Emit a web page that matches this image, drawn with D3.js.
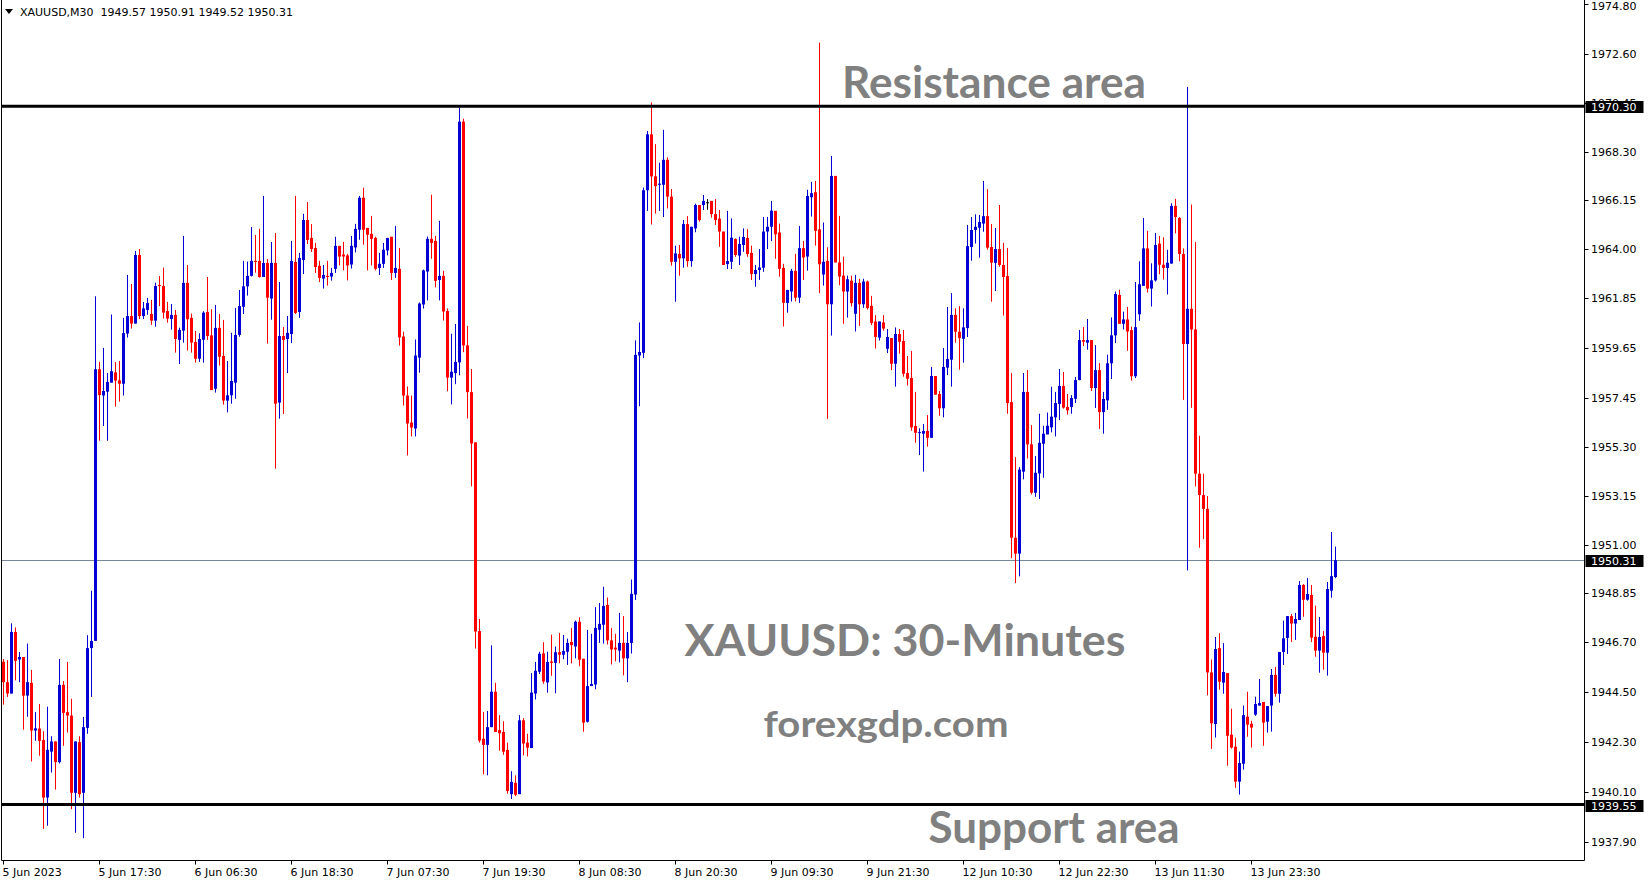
<!DOCTYPE html>
<html><head><meta charset="utf-8">
<script src="https://cdn.jsdelivr.net/npm/d3@7"></script>
<style>
html,body{margin:0;padding:0;background:#fff;overflow:hidden}
svg{display:block}
</style></head><body>
<svg id="c" width="1649" height="884"></svg>
<script>
const symbolTitle = "XAUUSD,M30";
const lastQuote = ["1949.57", "1950.91", "1949.52", "1950.31"];

const opens = [1945.84,1944.94,1944.44,1947.15,1945.94,1946.05,1944.35,1944.91,1942.81,1942.90,1942.39,1939.86,1941.88,1942.33,1941.42,1944.82,1943.62,1943.47,1940.07,1942.30,1940.07,1942.93,1946.44,1946.76,1958.72,1957.56,1957.73,1958.13,1958.58,1958.23,
1958.08,1960.29,1961.06,1960.73,1963.75,1961.06,1961.33,1961.15,1960.86,1962.43,1962.38,1961.28,1960.93,1961.11,1960.01,1960.42,1962.52,1960.98,1959.92,1959.18,1960.02,1961.24,1960.21,1957.86,1960.54,1959.30,1957.34,1957.57,1958.13,1960.23,
1961.47,1962.37,1962.83,1963.49,1963.49,1962.78,1963.40,1961.83,1963.40,1957.25,1960.18,1960.05,1960.27,1963.44,1961.24,1963.53,1965.29,1964.50,1964.06,1963.27,1962.71,1962.83,1962.80,1963.14,1964.15,1963.77,1963.73,1963.33,1964.08,1964.86,
1966.27,1964.94,1964.68,1964.50,1963.18,1963.36,1963.95,1964.55,1962.96,1963.14,1960.16,1957.56,1956.37,1956.11,1959.23,1961.57,1963.02,1964.46,1964.37,1962.65,1962.83,1961.28,1958.35,1958.55,1959.02,1969.62,1959.77,1957.71,1955.50,1947.19,
1942.45,1942.18,1942.96,1944.52,1942.83,1942.75,1941.96,1940.01,1940.51,1940.01,1943.26,1942.28,1942.04,1944.44,1945.40,1946.21,1944.93,1945.85,1945.79,1946.26,1946.15,1946.28,1946.71,1946.51,1947.60,1945.97,1943.20,1944.77,1944.84,1947.25,
1947.47,1948.34,1946.78,1946.46,1946.33,1946.67,1945.99,1946.67,1948.80,1959.32,1959.44,1966.60,1969.06,1967.21,1966.84,1966.84,1967.94,1966.32,1963.45,1963.79,1963.60,1965.11,1963.48,1964.92,1965.95,1965.95,1966.07,1966.13,1965.55,1965.35,
1964.78,1963.35,1963.45,1964.45,1963.72,1964.19,1964.50,1963.84,1962.91,1963.09,1963.19,1964.78,1964.99,1965.69,1964.74,1963.18,1961.64,1962.14,1963.05,1961.87,1964.05,1963.68,1966.29,1966.51,1964.88,1962.89,1963.49,1961.58,1967.23,1963.42,
1962.84,1962.14,1962.62,1961.16,1962.52,1961.58,1962.58,1961.51,1960.82,1960.11,1960.78,1959.62,1960.09,1958.96,1960.27,1959.96,1958.55,1958.33,1956.22,1955.92,1955.88,1956.00,1955.70,1958.42,1957.63,1957.00,1958.79,1959.14,1961.11,1960.37,
1960.06,1960.53,1964.10,1964.85,1964.95,1965.13,1965.46,1964.10,1963.40,1964.01,1963.31,1962.82,1957.27,1951.30,1950.60,1954.21,1957.72,1955.41,1953.28,1954.13,1955.44,1955.85,1956.16,1956.60,1957.19,1957.98,1957.06,1957.06,1957.42,1958.24,
1960.00,1959.89,1960.00,1957.89,1958.68,1956.83,1957.35,1958.98,1960.21,1961.99,1960.72,1960.91,1960.44,1958.41,1961.14,1962.39,1964.04,1962.27,1962.63,1964.25,1963.32,1963.18,1963.37,1965.91,1965.38,1963.79,1959.83,1961.38,1960.47,1954.12,
1953.18,1952.57,1945.37,1943.10,1946.44,1944.92,1945.34,1942.63,1942.10,1940.56,1941.35,1943.42,1943.11,1943.51,1943.91,1944.07,1943.20,1943.91,1945.26,1944.43,1946.27,1946.89,1947.85,1947.52,1947.68,1949.22,1948.57,1948.78,1946.94,1946.33,
1946.97,1946.24,1948.97,1949.57];

const highs = [1945.96,1945.91,1947.53,1947.35,1946.27,1946.05,1946.64,1945.48,1943.62,1943.98,1942.78,1943.86,1942.56,1942.33,1945.96,1944.99,1945.83,1944.21,1942.33,1942.56,1943.41,1947.01,1948.97,1961.93,1959.04,1959.66,1958.55,1961.13,1959.04,1959.08,
1960.98,1962.87,1962.47,1963.93,1964.01,1961.68,1961.86,1961.77,1962.53,1962.82,1963.19,1961.68,1961.59,1961.33,1960.55,1964.59,1963.31,1961.17,1960.40,1960.30,1961.27,1962.78,1961.36,1961.55,1961.15,1960.89,1959.08,1960.32,1961.42,1962.21,
1963.49,1963.46,1964.98,1964.63,1964.90,1966.35,1963.57,1964.32,1964.72,1962.56,1960.58,1961.06,1964.37,1966.35,1963.84,1965.56,1966.08,1965.11,1964.28,1963.49,1963.31,1963.49,1963.18,1964.55,1964.15,1964.33,1963.80,1964.59,1965.12,1966.35,
1966.71,1964.94,1965.47,1964.55,1963.84,1964.28,1964.50,1964.55,1965.03,1964.06,1960.37,1957.96,1957.56,1960.03,1961.66,1963.11,1964.56,1966.40,1964.59,1965.25,1963.05,1961.40,1960.28,1960.71,1970.25,1969.75,1960.63,1958.73,1955.50,1947.72,
1943.63,1943.67,1946.56,1944.91,1943.49,1943.22,1942.28,1941.02,1940.84,1943.49,1943.36,1942.67,1945.34,1945.83,1946.28,1946.70,1946.28,1947.03,1946.51,1947.11,1947.02,1946.86,1947.33,1947.65,1947.80,1945.97,1947.24,1947.07,1948.25,1948.43,
1949.14,1948.67,1947.33,1947.07,1947.99,1947.85,1947.15,1949.46,1959.99,1960.78,1966.72,1969.21,1970.47,1968.63,1967.81,1969.26,1968.05,1966.65,1964.16,1964.19,1965.29,1965.46,1964.99,1966.01,1965.95,1966.39,1966.21,1966.13,1966.21,1965.73,
1964.78,1965.69,1965.36,1964.48,1964.56,1964.92,1964.89,1964.16,1963.31,1964.01,1965.42,1965.42,1966.13,1965.69,1965.13,1963.36,1962.21,1963.14,1963.80,1965.03,1964.37,1966.62,1966.97,1967.01,1973.10,1965.18,1964.09,1968.11,1967.23,1965.47,
1963.68,1962.84,1962.84,1962.87,1962.70,1962.70,1962.62,1961.95,1961.10,1960.82,1961.10,1960.49,1960.09,1960.56,1960.49,1960.45,1959.30,1959.52,1957.72,1956.12,1956.31,1956.70,1958.82,1958.42,1957.76,1959.65,1961.46,1962.07,1961.40,1961.50,
1961.40,1965.07,1965.42,1965.54,1965.51,1967.01,1966.65,1965.11,1964.94,1965.95,1964.28,1964.06,1958.55,1954.85,1954.41,1958.55,1958.68,1956.26,1954.90,1956.76,1956.23,1956.81,1957.95,1957.72,1958.73,1958.60,1957.63,1957.58,1958.38,1960.45,
1960.58,1960.93,1960.00,1959.78,1958.99,1957.72,1959.36,1961.00,1962.14,1962.22,1961.25,1961.46,1960.59,1962.56,1963.47,1965.38,1964.81,1963.38,1964.72,1964.59,1964.53,1963.98,1966.03,1966.22,1965.42,1964.04,1971.15,1965.97,1964.32,1955.79,
1954.12,1953.14,1945.94,1946.93,1947.10,1946.66,1945.34,1943.77,1942.50,1941.88,1943.91,1944.52,1943.24,1944.30,1945.08,1944.07,1943.89,1945.52,1945.61,1946.27,1947.65,1947.85,1947.94,1947.99,1949.39,1949.26,1949.53,1949.22,1948.31,1947.81,
1947.19,1949.35,1951.55,1950.91];

const lows = [1943.95,1944.29,1944.44,1945.02,1944.94,1942.85,1943.42,1941.45,1942.36,1941.70,1938.48,1938.62,1940.96,1940.21,1941.36,1942.14,1942.72,1939.35,1938.31,1939.86,1938.07,1942.67,1944.29,1946.76,1955.57,1956.22,1955.57,1958.13,1957.07,1957.29,
1957.56,1960.11,1960.51,1960.73,1960.93,1960.93,1961.12,1960.67,1960.59,1961.50,1960.95,1960.77,1960.46,1959.45,1958.95,1959.89,1959.54,1959.45,1959.01,1959.04,1959.01,1960.01,1957.80,1957.69,1958.88,1957.16,1956.82,1957.20,1957.42,1960.15,
1961.15,1961.96,1962.80,1962.97,1962.75,1962.78,1959.85,1960.90,1954.34,1956.54,1956.75,1958.55,1959.87,1961.15,1960.98,1962.91,1964.23,1963.88,1962.96,1962.56,1962.27,1962.40,1962.62,1962.96,1963.29,1963.07,1962.63,1963.15,1963.86,1964.42,
1964.20,1963.07,1963.29,1963.07,1962.87,1963.18,1963.73,1962.65,1962.74,1959.76,1957.12,1954.92,1955.76,1955.76,1958.57,1961.39,1961.75,1963.58,1962.32,1961.75,1960.86,1957.75,1957.17,1958.06,1958.45,1959.47,1956.55,1953.56,1946.42,1942.28,
1940.88,1940.84,1942.96,1942.75,1941.92,1941.74,1940.03,1939.80,1939.92,1940.01,1941.72,1941.67,1942.04,1944.18,1945.30,1944.87,1944.48,1945.22,1944.45,1945.77,1945.95,1945.70,1945.77,1945.99,1945.64,1942.76,1943.16,1944.77,1944.63,1946.67,
1946.64,1946.60,1945.72,1945.86,1945.81,1945.24,1944.94,1946.20,1948.56,1957.09,1959.21,1965.69,1965.09,1965.57,1965.69,1965.42,1965.80,1963.28,1961.69,1962.84,1963.19,1963.23,1963.23,1964.75,1965.22,1965.73,1965.74,1965.39,1965.07,1964.11,
1963.31,1963.13,1963.13,1963.67,1963.31,1963.89,1963.67,1962.65,1962.35,1962.65,1963.01,1964.01,1964.36,1963.58,1962.79,1960.60,1961.21,1961.70,1961.70,1961.64,1962.65,1963.06,1965.44,1964.16,1962.07,1962.40,1956.53,1960.20,1963.42,1962.42,
1960.72,1960.99,1961.48,1960.38,1960.63,1961.42,1961.35,1960.66,1959.63,1959.98,1960.42,1959.43,1958.68,1957.95,1959.40,1958.39,1958.00,1956.01,1955.48,1954.94,1954.21,1955.31,1955.70,1957.60,1956.67,1956.60,1958.46,1957.95,1959.89,1958.70,
1959.01,1960.14,1963.50,1964.25,1963.63,1964.77,1963.98,1961.69,1962.16,1963.23,1961.08,1956.76,1950.40,1949.30,1949.60,1953.87,1954.79,1953.21,1953.10,1953.00,1953.94,1955.85,1955.94,1955.76,1956.48,1956.98,1956.72,1956.76,1957.23,1958.24,
1959.74,1959.58,1957.76,1957.01,1956.09,1955.88,1956.93,1958.29,1959.87,1960.72,1960.47,1959.53,1958.22,1958.33,1960.85,1962.39,1962.10,1961.48,1962.58,1962.90,1962.67,1962.01,1963.37,1964.70,1963.47,1957.37,1949.86,1957.02,1953.56,1950.86,
1951.24,1944.36,1942.00,1942.50,1944.61,1944.43,1941.26,1942.01,1940.29,1939.99,1941.09,1942.54,1942.06,1943.46,1943.91,1942.14,1942.72,1942.76,1944.30,1944.04,1945.70,1946.18,1946.71,1946.80,1947.68,1947.82,1948.53,1946.71,1946.06,1945.36,
1945.49,1945.23,1948.66,1949.52];

const closes = [1944.94,1944.44,1947.15,1945.88,1946.05,1944.35,1944.94,1942.81,1942.91,1942.36,1939.86,1941.96,1942.33,1941.42,1944.82,1943.59,1943.47,1940.07,1942.33,1940.01,1942.96,1946.44,1946.75,1958.72,1957.58,1957.76,1958.16,1958.63,1958.22,1958.08,
1960.31,1961.06,1960.73,1963.75,1961.06,1961.40,1961.64,1960.86,1962.38,1962.38,1961.21,1960.95,1961.11,1960.05,1960.45,1962.52,1960.92,1959.89,1959.18,1960.05,1961.21,1960.18,1957.80,1960.54,1959.27,1957.34,1957.57,1958.20,1960.23,1961.50,
1962.37,1962.83,1963.49,1963.44,1962.78,1963.40,1961.87,1963.40,1957.20,1960.18,1960.01,1960.32,1963.49,1961.20,1963.62,1965.29,1964.41,1964.01,1963.22,1962.74,1962.87,1962.78,1962.96,1964.15,1963.68,1963.68,1963.29,1964.15,1964.90,1966.27,
1964.86,1964.64,1964.46,1963.14,1963.36,1963.98,1964.50,1962.96,1963.18,1960.12,1957.56,1956.33,1956.15,1959.32,1961.61,1963.07,1964.46,1964.28,1962.61,1962.83,1961.26,1958.35,1958.61,1959.04,1969.62,1959.77,1957.71,1955.45,1947.17,1942.37,
1942.18,1942.96,1944.52,1942.75,1942.69,1941.88,1940.15,1940.55,1939.98,1943.26,1942.24,1942.06,1944.48,1945.44,1946.19,1944.97,1945.83,1945.79,1946.26,1946.15,1946.31,1946.67,1946.57,1947.60,1945.93,1943.16,1944.77,1944.86,1947.33,1947.51,
1948.30,1946.78,1946.38,1946.38,1946.67,1945.99,1946.67,1948.83,1959.35,1959.48,1966.60,1969.06,1967.21,1966.78,1966.89,1967.94,1966.32,1963.45,1963.82,1963.60,1965.11,1963.48,1964.99,1965.95,1965.29,1966.13,1966.07,1965.55,1965.29,1964.78,
1963.31,1963.48,1964.51,1963.75,1964.23,1964.54,1963.79,1962.91,1963.09,1963.20,1964.78,1964.99,1965.70,1964.66,1963.14,1961.64,1962.21,1963.05,1961.87,1964.05,1963.64,1966.35,1966.47,1964.81,1963.34,1963.45,1961.58,1967.23,1963.42,1962.80,
1962.14,1962.68,1961.63,1962.52,1961.58,1962.58,1961.41,1960.75,1960.14,1960.82,1960.51,1960.14,1958.96,1960.27,1959.93,1958.52,1958.30,1956.16,1955.92,1955.95,1956.00,1955.70,1958.42,1957.60,1957.00,1958.82,1959.17,1961.11,1960.37,1960.09,
1960.56,1964.14,1964.85,1964.99,1965.20,1965.46,1964.07,1963.41,1964.01,1963.31,1962.78,1957.23,1951.30,1950.60,1954.30,1957.72,1955.41,1953.28,1954.16,1955.48,1955.88,1956.23,1956.63,1957.23,1957.98,1957.03,1956.91,1957.45,1958.24,1960.00,
1959.93,1960.00,1957.89,1958.68,1956.83,1957.41,1958.98,1960.21,1962.03,1960.72,1960.91,1960.38,1958.41,1960.57,1962.46,1964.04,1962.27,1962.63,1964.19,1963.32,1963.18,1963.41,1965.91,1965.42,1963.79,1959.83,1961.38,1960.47,1954.12,1953.18,
1952.57,1945.37,1943.13,1946.40,1944.96,1945.39,1942.58,1942.06,1940.56,1941.38,1943.49,1943.07,1942.94,1943.98,1944.02,1943.16,1943.89,1945.26,1944.43,1946.27,1946.87,1947.85,1947.52,1947.72,1949.22,1948.57,1948.82,1946.90,1946.33,1946.93,
1946.24,1949.04,1949.61,1950.31];

const timeLabels = ["5 Jun 2023","5 Jun 17:30","6 Jun 06:30","6 Jun 18:30","7 Jun 07:30","7 Jun 19:30","8 Jun 08:30","8 Jun 20:30","9 Jun 09:30","9 Jun 21:30","12 Jun 10:30","12 Jun 22:30","13 Jun 11:30","13 Jun 23:30"];
const barsPerTimeLabel = 24;
const priceTicks = [1974.80,1972.60,1970.45,1968.30,1966.15,1964.00,1961.85,1959.65,1957.45,1955.30,1953.15,1951.00,1948.85,1946.70,1944.50,1942.30,1940.10,1937.90];
const resistanceLevel = 1970.30;
const supportLevel = 1939.55;
const currentPrice = 1950.31;
const notes = [
  {text: "Resistance area", cx: 994, base: 98, size: 44, len: 304},
  {text: "XAUUSD: 30-Minutes", cx: 905, base: 656, size: 44, len: 441},
  {text: "forexgdp.com", cx: 886, base: 737, size: 36, len: 245},
  {text: "Support area", cx: 1054, base: 843, size: 44, len: 251}
];

const W = 1649, H = 884;
const plotL = 1.5, plotR = 1584.5, plotB = 860.5;
const svg = d3.select("#c");
const x = d3.scaleLinear().domain([0, closes.length - 1]).range([3.3, 3.3 + 4 * (closes.length - 1)]);
const y = d3.scaleLinear().domain([supportLevel, resistanceLevel]).range([804.6, 106.2]);

svg.append("rect").attr("width", W).attr("height", H).attr("fill", "#fff");
svg.append("clipPath").attr("id", "plot").append("rect")
  .attr("x", plotL + 0.5).attr("y", 0).attr("width", plotR - plotL - 1).attr("height", plotB);

const colorOf = i => closes[i] > opens[i] ? "#0000d4" : (closes[i] < opens[i] ? "#ff0000" : "#000000");

const g = svg.append("g").attr("clip-path", "url(#plot)");

// current price line
g.append("line").attr("x1", plotL).attr("x2", plotR)
  .attr("y1", Math.round(y(currentPrice)) + 0.5).attr("y2", Math.round(y(currentPrice)) + 0.5)
  .attr("stroke", "#778899").attr("stroke-width", 1);

const idx = d3.range(closes.length);
const cg = g.append("g");
cg.selectAll("line.w").data(idx).join("line").attr("class", "w")
  .attr("x1", i => Math.round(x(i)) + 0.5).attr("x2", i => Math.round(x(i)) + 0.5)
  .attr("y1", i => y(highs[i])).attr("y2", i => y(lows[i]))
  .attr("stroke", colorOf).attr("stroke-width", 1);
cg.selectAll("rect.b").data(idx).join("rect").attr("class", "b")
  .attr("x", i => Math.round(x(i)) - 1).attr("width", 3)
  .attr("y", i => y(Math.max(opens[i], closes[i])))
  .attr("height", i => Math.max(1, Math.abs(y(opens[i]) - y(closes[i]))))
  .attr("fill", colorOf);

// support / resistance
[resistanceLevel, supportLevel].forEach(v => {
  g.append("line").attr("x1", plotL).attr("x2", plotR)
    .attr("y1", y(v)).attr("y2", y(v)).attr("stroke", "#000").attr("stroke-width", 3);
});

// frame
svg.append("path").attr("d", `M${plotL},0V${plotB}H${plotR}V0`).attr("fill", "none").attr("stroke", "#000").attr("stroke-width", 1);

// right axis
const ax = svg.append("g").attr("font-family", "Tahoma, 'DejaVu Sans', sans-serif").attr("font-size", 11);
priceTicks.forEach(p => {
  const yy = Math.max(6.5, Math.round(y(p)) + 0.5);
  ax.append("line").attr("x1", plotR).attr("x2", plotR + 4).attr("y1", Math.round(y(p)) + 0.5).attr("y2", Math.round(y(p)) + 0.5).attr("stroke", "#000");
  ax.append("text").attr("x", 1591).attr("y", yy).attr("dy", "0.35em").attr("fill", "#000").text(p.toFixed(2));
});
[resistanceLevel, currentPrice, supportLevel].forEach(v => {
  const yy = Math.round(y(v));
  ax.append("rect").attr("x", plotR + 1).attr("y", yy - 5).attr("width", 58).attr("height", 12).attr("fill", "#000");
  ax.append("text").attr("x", 1591).attr("y", yy + 1).attr("dy", "0.35em").attr("fill", "#fff").text(v.toFixed(2));
});

// bottom axis
timeLabels.forEach((t, k) => {
  const xx = Math.round(x(k * barsPerTimeLabel)) + 0.5;
  ax.append("line").attr("x1", xx).attr("x2", xx).attr("y1", plotB).attr("y2", plotB + 4).attr("stroke", "#000");
  ax.append("text").attr("x", xx - 1).attr("y", 876).attr("fill", "#000").text(t);
});

// header
svg.append("path").attr("d", "M5,9 L13,9 L9,14 Z").attr("fill", "#000");
svg.append("text").attr("x", 20).attr("y", 16).attr("font-family", "Tahoma, 'DejaVu Sans', sans-serif").attr("font-size", 11)
  .attr("fill", "#000").attr("xml:space", "preserve").text(symbolTitle + "  " + lastQuote.join(" "));

// annotations
notes.forEach(n => {
  svg.append("text").attr("x", n.cx).attr("y", n.base).attr("text-anchor", "middle")
    .attr("font-family", "Lato, 'Open Sans', sans-serif").attr("font-weight", 700).attr("font-size", n.size)
    .attr("fill", "#808080").attr("textLength", n.len).attr("lengthAdjust", "spacingAndGlyphs").text(n.text);
});
</script>
</body></html>
